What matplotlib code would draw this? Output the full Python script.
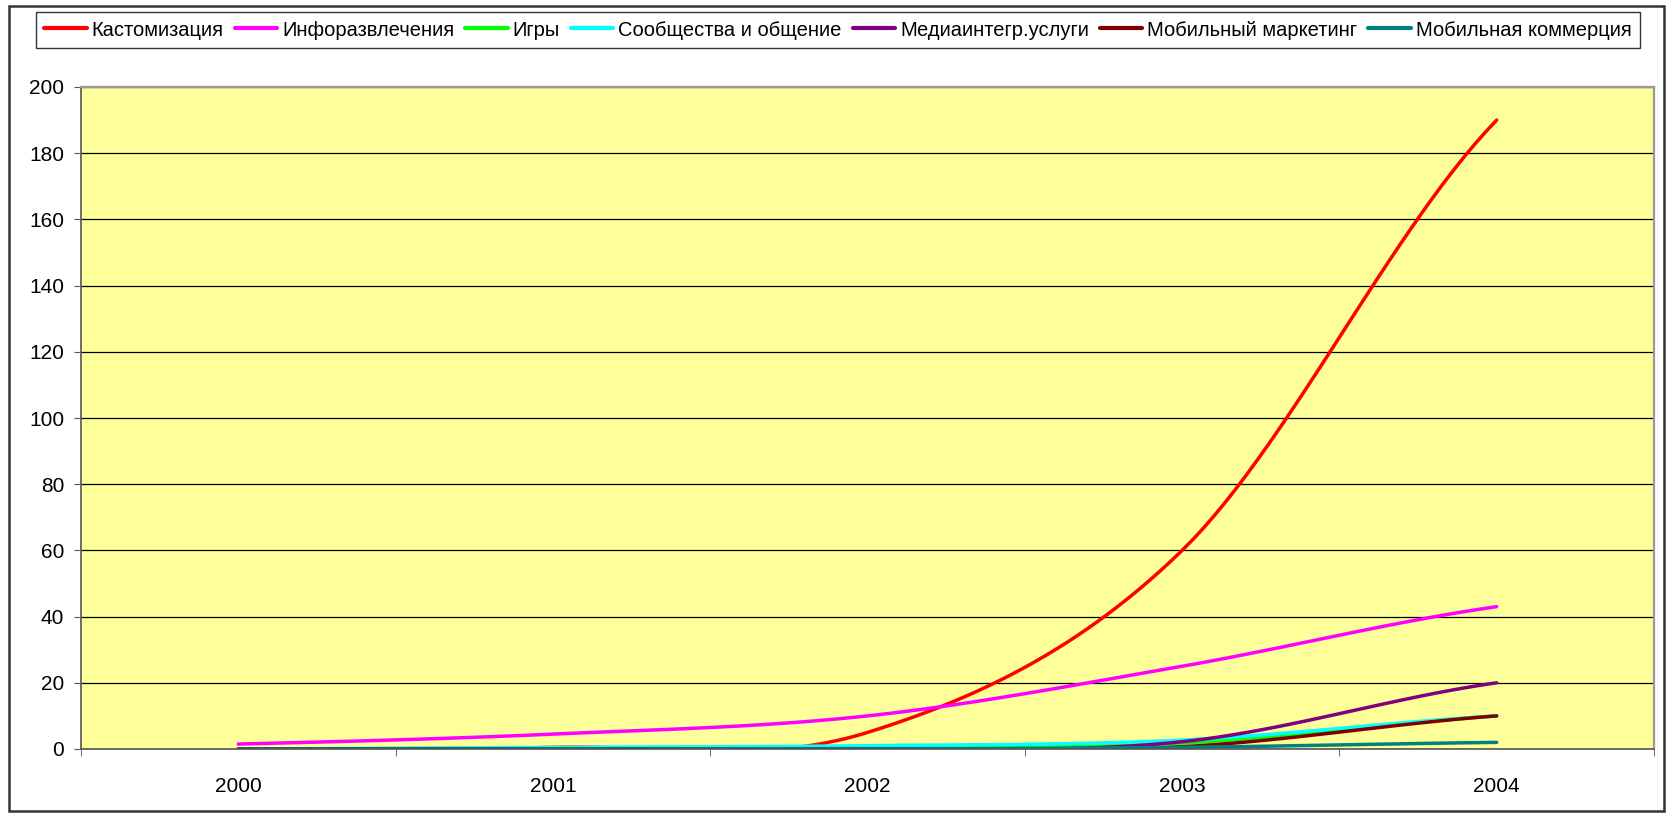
import numpy as np
import matplotlib.pyplot as plt
from matplotlib.patches import Rectangle

plt.rcParams['font.family'] = ['Liberation Sans', 'DejaVu Sans']

years = ['2000', '2001', '2002', '2003', '2004']

custom = [0, 0.5, 5, 60, 190]
infotainment = [1.5, 4.5, 10, 25, 43]
games = [0, 0.2, 0.3, 1.8, 10]
communities = [0, 0.5, 1, 2.7, 10]
media = [0, 0, 0, 2.2, 20]
mob_marketing = [0, 0, 0, 0.7, 10]
mob_commerce = [0, 0, 0, 0.5, 2]

names = ['Кастомизация', 'Инфоразвлечения', 'Игры', 'Сообщества и общение',
         'Медиаинтегр.услуги', 'Мобильный маркетинг', 'Мобильная коммерция']
colors = ['#ff0000', '#ff00ff', '#00ff00', '#00ffff', '#800080', '#800000', '#008080']
series = [custom, infotainment, games, communities, media, mob_marketing, mob_commerce]


def smooth(y, n=30):
    # excel-like smoothed line (bezier through the points)
    y = np.asarray(y, float)
    x = np.arange(len(y), dtype=float)
    m = len(y)
    xs, ys = [], []
    for i in range(m - 1):
        t = np.linspace(0, 1, n, endpoint=(i == m - 2))
        p1, p2 = y[i], y[i + 1]
        c1 = p1 + ((y[i + 1] - y[i - 1]) / 6 if i > 0 else (p2 - p1) / 4)
        c2 = p2 - ((y[i + 2] - y[i]) / 6 if i < m - 2 else (p2 - p1) / 4)
        yy = (1 - t)**3 * p1 + 3 * (1 - t)**2 * t * c1 + 3 * (1 - t) * t**2 * c2 + t**3 * p2
        xs.append(x[i] + t)
        ys.append(yy)
    return np.concatenate(xs), np.concatenate(ys)


fig = plt.figure(figsize=(16.7, 8.14), dpi=100)
W, H = 1670, 814
ax = fig.add_axes([81 / W, 1 - 749 / H, (1654 - 81) / W, (749 - 87) / H])
ax.set_facecolor('#ffff99')

for vals, c, name in zip(series, colors, names):
    sx, sy = smooth(vals)
    ax.plot(sx, sy, color=c, lw=2.5, label=name, solid_capstyle='round')

ax.set_xlim(-0.5, 4.5)
ax.set_ylim(0, 200)
ax.set_yticks(np.arange(0, 201, 20))
ax.yaxis.grid(True, color='black', lw=0.9)
ax.set_axisbelow(True)
ax.set_xticks(range(5))
ax.set_xticklabels(years)
ax.set_xticks(np.arange(-0.5, 4.6, 1), minor=True)
ax.tick_params(axis='x', which='major', length=0, pad=20, labelsize=15)
ax.tick_params(axis='x', which='minor', length=5, direction='out', color='#555555')
ax.tick_params(axis='y', length=5, direction='out', color='#555555', labelsize=15, pad=7)
for s in ['left', 'bottom']:
    ax.spines[s].set_color('#555555')
    ax.spines[s].set_linewidth(1.2)
for s in ['top', 'right']:
    ax.spines[s].set_color('#999999')
    ax.spines[s].set_linewidth(1.6)

handles, labels = ax.get_legend_handles_labels()
leg = fig.legend(handles, labels, loc='center', ncol=7,
                 bbox_to_anchor=((32 + 1644) / 2 / W, 1 - 30 / H),
                 fontsize=14.5, frameon=True, fancybox=False, edgecolor='black',
                 handlelength=2.1, handletextpad=0.25, columnspacing=0.55,
                 borderpad=0.4, borderaxespad=0)
leg.get_frame().set_linewidth(1.0)
for ln in leg.get_lines():
    ln.set_linewidth(3)

fig.patches.append(Rectangle((9 / W, 1 - 811 / H), (1664 - 9) / W, (811 - 6) / H,
                             transform=fig.transFigure, fill=False,
                             edgecolor='#333333', lw=1.8))

fig.savefig('out.png', dpi=100)
